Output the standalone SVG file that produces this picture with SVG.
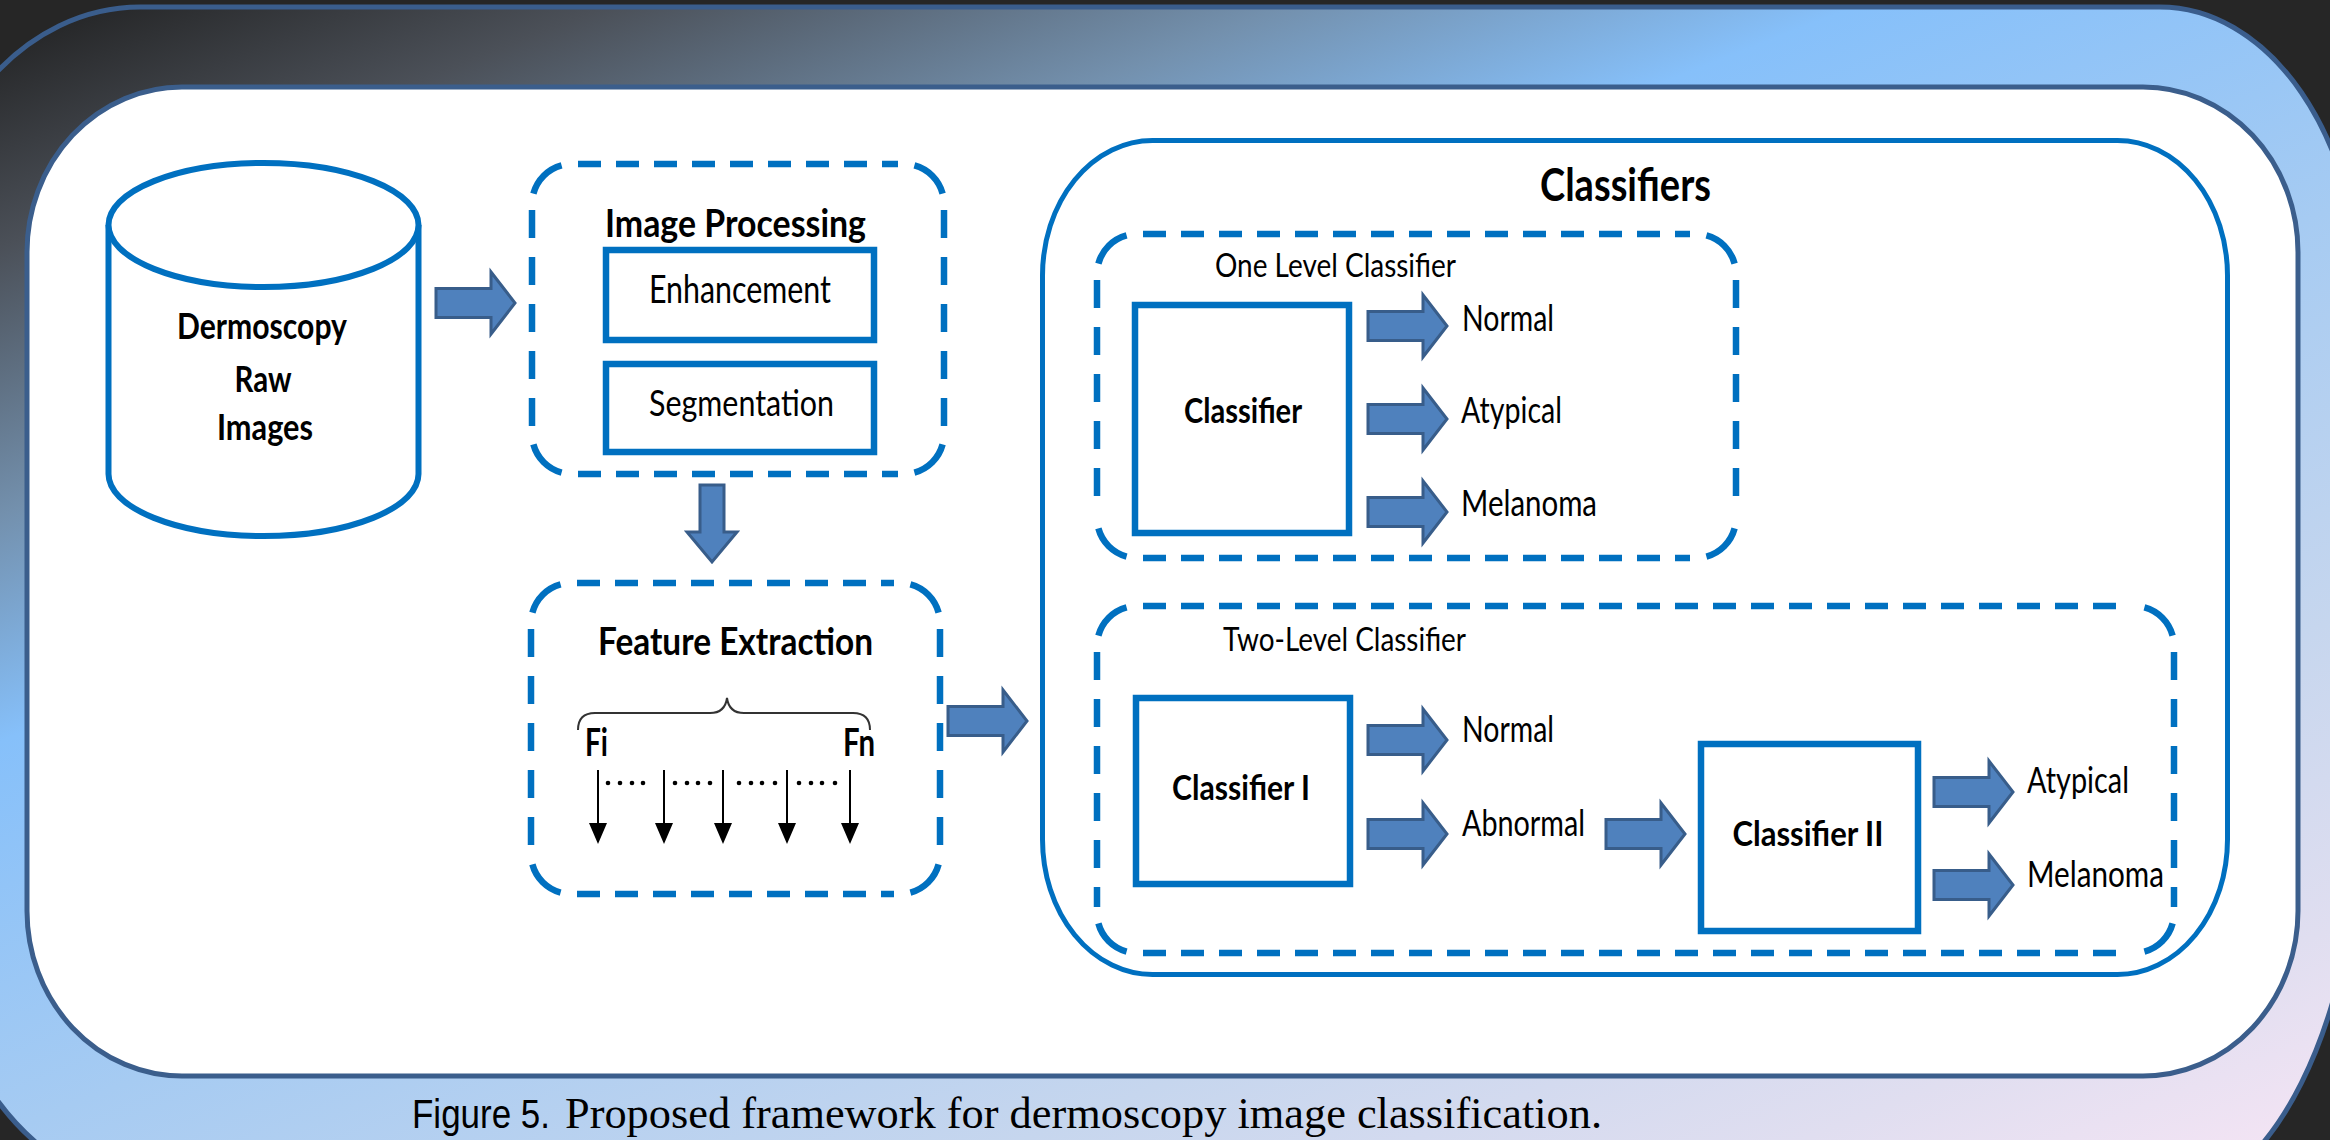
<svg xmlns="http://www.w3.org/2000/svg" width="2330" height="1140" viewBox="0 0 2330 1140">
<defs>
<linearGradient id="bg" gradientUnits="userSpaceOnUse" x1="0" y1="0" x2="705" y2="1780">
<stop offset="0" stop-color="#1e1e1e"/>
<stop offset="0.12" stop-color="#4b5058"/>
<stop offset="0.25" stop-color="#7390ad"/>
<stop offset="0.36" stop-color="#86c0fa"/>
<stop offset="0.55" stop-color="#a6cbf2"/>
<stop offset="0.75" stop-color="#c6d6ee"/>
<stop offset="0.9" stop-color="#e0def0"/>
<stop offset="1" stop-color="#f4e4f4"/>
</linearGradient>
<path id="ra" d="M-79,-14.5 H-24 V-31 L0,0 L-24,31 V14.5 H-79 Z"/>
<style>
.t{font-family:Lato,'Open Sans','Liberation Sans',sans-serif;fill:#000}
.b{font-weight:700}
.box{fill:#fff;stroke:#0070c0;stroke-width:6.5}
.dsh{fill:none;stroke:#0070c0;stroke-width:6.5}
.dh{stroke-dasharray:23 15}
.dv{stroke-dasharray:28 19}
.blk{fill:#4f81bd;stroke:#385d8a;stroke-width:3;stroke-linejoin:miter}
.fa{stroke:#000;stroke-width:2}
</style>
</defs>
<rect x="0" y="0" width="2330" height="1140" fill="#262626"/>
<path d="M140,7 H2160 A200 292 0 0 1 2360 299 V800 A200 400 0 0 1 2160 1200 L140 1184 A220 350 0 0 1 -80 834 V277 A220 270 0 0 1 140 7 Z" fill="url(#bg)" stroke="#3a5d8c" stroke-width="5"/>
<rect x="27" y="87" width="2271" height="989" rx="155" ry="165" fill="#fff" stroke="#3b5e8c" stroke-width="5"/>

<g id="n-raw">
<path d="M108.5,225 V474 A155 62 0 0 0 418.5,474 V225" fill="#fff" stroke="#0070c0" stroke-width="6"/>
<ellipse cx="263.5" cy="225" rx="155" ry="62" fill="#fff" stroke="#0070c0" stroke-width="6"/>
<text class="t b" x="262" y="339" font-size="36" text-anchor="middle" textLength="170" lengthAdjust="spacingAndGlyphs">Dermoscopy</text>
<text class="t b" x="263" y="392" font-size="36" text-anchor="middle" textLength="57" lengthAdjust="spacingAndGlyphs">Raw</text>
<text class="t b" x="265" y="440" font-size="36" text-anchor="middle" textLength="96" lengthAdjust="spacingAndGlyphs">Images</text>
</g>

<g id="n-imgproc">
<path class="dsh" d="M533.4,193.6 A40 40 0 0 1 561.6,165.4 M914.4,165.4 A40 40 0 0 1 942.6,193.6 M942.6,444.4 A40 40 0 0 1 914.4,472.6 M561.6,472.6 A40 40 0 0 1 533.4,444.4"/>
<path class="dsh dh" d="M578,164 H898 M578,474 H898"/>
<path class="dsh dv" d="M532,210 V428 M944,210 V428"/>
<text class="t b" x="605" y="237" font-size="39" textLength="261" lengthAdjust="spacingAndGlyphs">Image Processing</text>
</g>
<g id="n-enh">
<rect class="box" x="606" y="250" width="268" height="90"/>
<text class="t" x="649" y="303" font-size="38" textLength="182" lengthAdjust="spacingAndGlyphs">Enhancement</text>
</g>
<g id="n-seg">
<rect class="box" x="606" y="364" width="268" height="88"/>
<text class="t" x="649" y="416" font-size="37" textLength="185" lengthAdjust="spacingAndGlyphs">Segmentation</text>
</g>

<g id="n-feat">
<path class="dsh" d="M532.4,612.6 A40 40 0 0 1 560.6,584.4 M910.4,584.4 A40 40 0 0 1 938.6,612.6 M938.6,864.4 A40 40 0 0 1 910.4,892.6 M560.6,892.6 A40 40 0 0 1 532.4,864.4"/>
<path class="dsh dh" d="M577,583 H894 M577,894 H894"/>
<path class="dsh dv" d="M531,629 V848 M940,629 V848"/>
<text class="t b" x="598" y="655" font-size="38" textLength="275" lengthAdjust="spacingAndGlyphs">Feature Extraction</text>
<path d="M578,730 Q578,713 595,713 H710 Q725,713 727,698 Q729,713 744,713 H853 Q870,713 870,730" fill="none" stroke="#333" stroke-width="2"/>
<text class="t b" x="585" y="756" font-size="39" textLength="23" lengthAdjust="spacingAndGlyphs">Fi</text>
<text class="t b" x="843" y="756" font-size="39" textLength="32" lengthAdjust="spacingAndGlyphs">Fn</text>
<g fill="#000">
<line class="fa" x1="598" y1="770" x2="598" y2="825"/>
<line class="fa" x1="664" y1="770" x2="664" y2="825"/>
<line class="fa" x1="723" y1="770" x2="723" y2="825"/>
<line class="fa" x1="787" y1="770" x2="787" y2="825"/>
<line class="fa" x1="850" y1="770" x2="850" y2="825"/>
<path d="M589,823 H607 L598,844 Z M655,823 H673 L664,844 Z M714,823 H732 L723,844 Z M778,823 H796 L787,844 Z M841,823 H859 L850,844 Z"/>
<circle cx="608" cy="783" r="2.3"/><circle cx="620" cy="783" r="2.3"/><circle cx="632" cy="783" r="2.3"/><circle cx="643" cy="783" r="2.3"/>
<circle cx="675" cy="783" r="2.3"/><circle cx="687" cy="783" r="2.3"/><circle cx="698" cy="783" r="2.3"/><circle cx="710" cy="783" r="2.3"/>
<circle cx="739" cy="783" r="2.3"/><circle cx="751" cy="783" r="2.3"/><circle cx="762" cy="783" r="2.3"/><circle cx="775" cy="783" r="2.3"/>
<circle cx="799" cy="783" r="2.3"/><circle cx="811" cy="783" r="2.3"/><circle cx="822" cy="783" r="2.3"/><circle cx="835" cy="783" r="2.3"/>
</g>
</g>

<g id="n-classifiers">
<rect x="1042.5" y="140.5" width="1185" height="834" rx="110" ry="135" fill="#fff" stroke="#0070c0" stroke-width="5"/>
<text class="t b" x="1540" y="201" font-size="45" textLength="171" lengthAdjust="spacingAndGlyphs">Classifiers</text>
</g>

<g id="n-onelevel">
<path class="dsh" d="M1098.4,263.6 A40 40 0 0 1 1126.6,235.4 M1706.4,235.4 A40 40 0 0 1 1734.6,263.6 M1734.6,528.4 A40 40 0 0 1 1706.4,556.6 M1126.6,556.6 A40 40 0 0 1 1098.4,528.4"/>
<path class="dsh dh" d="M1143,234 H1690 M1143,558 H1690"/>
<path class="dsh dv" d="M1097,280 V512 M1736,280 V512"/>
<text class="t" x="1215" y="277" font-size="32" textLength="241" lengthAdjust="spacingAndGlyphs">One Level Classifier</text>
</g>
<g id="n-clf">
<rect class="box" x="1135" y="305" width="214" height="228"/>
<text class="t b" x="1243" y="423" font-size="35" text-anchor="middle" textLength="118" lengthAdjust="spacingAndGlyphs">Classifier</text>
</g>
<g id="n-out1">
<text class="t" x="1462" y="331" font-size="36" textLength="92" lengthAdjust="spacingAndGlyphs">Normal</text>
<text class="t" x="1461" y="423" font-size="36" textLength="101" lengthAdjust="spacingAndGlyphs">Atypical</text>
<text class="t" x="1461" y="516" font-size="36" textLength="136" lengthAdjust="spacingAndGlyphs">Melanoma</text>
</g>

<g id="n-twolevel">
<path class="dsh" d="M1098.4,635.6 A40 40 0 0 1 1126.6,607.4 M2144.4,607.4 A40 40 0 0 1 2172.6,635.6 M2172.6,923.4 A40 40 0 0 1 2144.4,951.6 M1126.6,951.6 A40 40 0 0 1 1098.4,923.4"/>
<path class="dsh dh" d="M1143,606 H2128 M1143,953 H2128"/>
<path class="dsh dv" d="M1097,652 V907 M2174,652 V907"/>
<text class="t" x="1223" y="651" font-size="32" textLength="243" lengthAdjust="spacingAndGlyphs">Two-Level Classifier</text>
</g>
<g id="n-clf1">
<rect class="box" x="1136" y="698" width="214" height="186"/>
<text class="t b" x="1241" y="800" font-size="35" text-anchor="middle" textLength="138" lengthAdjust="spacingAndGlyphs">Classifier I</text>
</g>
<g id="n-clf2">
<rect class="box" x="1701" y="744" width="217" height="187"/>
<text class="t b" x="1808" y="846" font-size="35" text-anchor="middle" textLength="151" lengthAdjust="spacingAndGlyphs">Classifier II</text>
</g>
<g id="n-out2">
<text class="t" x="1462" y="742" font-size="36" textLength="92" lengthAdjust="spacingAndGlyphs">Normal</text>
<text class="t" x="1462" y="836" font-size="36" textLength="123" lengthAdjust="spacingAndGlyphs">Abnormal</text>
<text class="t" x="2027" y="793" font-size="36" textLength="102" lengthAdjust="spacingAndGlyphs">Atypical</text>
<text class="t" x="2027" y="887" font-size="36" textLength="137" lengthAdjust="spacingAndGlyphs">Melanoma</text>
</g>

<g id="connectors" class="blk">
<use href="#ra" x="515" y="303"/>
<path d="M700,485 H724 V532 H737 L712,562 L687,532 H700 Z"/>
<use href="#ra" x="1027" y="721"/>
<use href="#ra" x="1447" y="326"/>
<use href="#ra" x="1447" y="419"/>
<use href="#ra" x="1447" y="512"/>
<use href="#ra" x="1447" y="740"/>
<use href="#ra" x="1447" y="834"/>
<use href="#ra" x="1685" y="834"/>
<use href="#ra" x="2013" y="792"/>
<use href="#ra" x="2013" y="885"/>
</g>

<g id="caption">
<text x="412" y="1128" font-family="'Liberation Sans',Arial,sans-serif" font-size="40" textLength="138" lengthAdjust="spacingAndGlyphs" fill="#000">Figure 5.</text>
<text x="565" y="1128" font-family="'Liberation Serif','Times New Roman',serif" font-size="44" textLength="1037" lengthAdjust="spacingAndGlyphs" fill="#000">Proposed framework for dermoscopy image classification.</text>
</g>
</svg>
